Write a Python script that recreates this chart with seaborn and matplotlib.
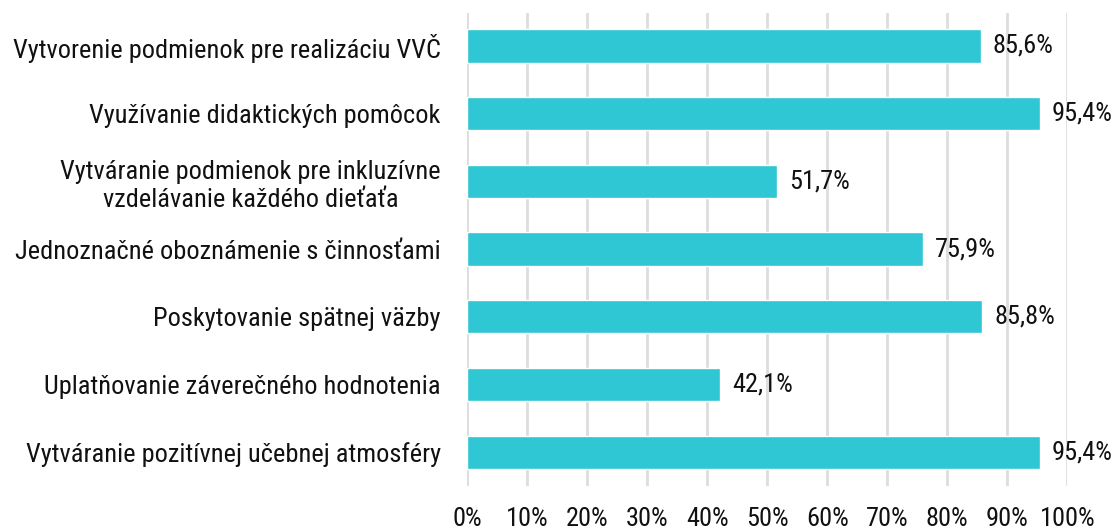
import numpy as np
import pandas as pd
import seaborn as sns
import matplotlib.pyplot as plt
from matplotlib.ticker import FuncFormatter

# Údaje z grafu
kategorie = [
    "Vytvorenie podmienok pre realizáciu VVČ",
    "Využívanie didaktických pomôcok",
    "Vytváranie podmienok pre inkluzívne\nvzdelávanie každého dieťaťa",
    "Jednoznačné oboznámenie s činnosťami",
    "Poskytovanie spätnej väzby",
    "Uplatňovanie záverečného hodnotenia",
    "Vytváranie pozitívnej učebnej atmosféry",
]
hodnoty = [85.6, 95.4, 51.7, 75.9, 85.8, 42.1, 95.4]
x_ticks = [0, 10, 20, 30, 40, 50, 60, 70, 80, 90, 100]

df = pd.DataFrame({"Kategoria": kategorie, "Hodnota": hodnoty})

sns.set_style("white")
plt.rcParams["font.family"] = ["Roboto Condensed", "Roboto", "DejaVu Sans"]

fig = plt.figure(figsize=(11.2, 5.32), dpi=100)
ax = fig.add_axes([0.417, 0.0865, 0.536, 0.8895])

sns.barplot(data=df, x="Hodnota", y="Kategoria", color="#2ec7d3", saturation=1,
            width=0.49, ax=ax, zorder=3)

ax.set_xlim(0, 100)
ax.set_ylim(6.5, -0.49)
ax.set_xticks(x_ticks)
ax.xaxis.set_major_formatter(FuncFormatter(lambda v, p: f"{v:.0f}%"))
ax.grid(axis="x", color="#dddddd", linewidth=2, zorder=0)
ax.tick_params(axis="x", length=0, pad=15, labelsize=19, colors="#111111")
ax.tick_params(axis="y", length=0, pad=19, labelsize=19, colors="#111111")
for lab in ax.get_yticklabels():
    lab.set_multialignment("center")
ax.set_xlabel("")
ax.set_ylabel("")
for s in ax.spines.values():
    s.set_visible(False)

# popisky hodnôt
for i, v in enumerate(hodnoty):
    ax.text(v + 2.0, i, f"{v:.1f}".replace(".", ",") + "%", va="center", ha="left",
            fontsize=19, color="#111111")

fig.savefig("out.png", dpi=100)
